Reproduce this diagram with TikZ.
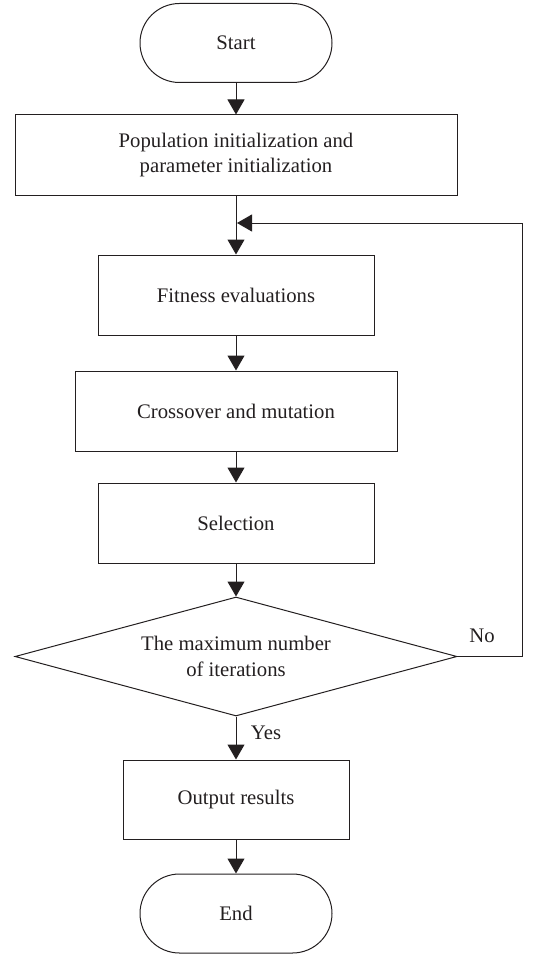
\documentclass[tikz,border=0pt]{standalone}
\usepackage{fontspec}
\setmainfont{Liberation Serif}
\usetikzlibrary{arrows.meta,shapes.geometric}
\definecolor{ink}{HTML}{231F20}
\begin{document}
\begin{tikzpicture}[x=1pt,y=-1pt,
  every node/.style={text=ink,font=\fontsize{20.7}{25.5}\selectfont},
  procbox/.style={draw=ink,line width=1pt,rectangle,minimum height=80pt,align=center,inner sep=0pt},
  termbox/.style={draw=ink,line width=1pt,rectangle,rounded corners=39.5pt,minimum width=192pt,minimum height=79pt,inner sep=0pt},
  decbox/.style={draw=ink,line width=1pt,diamond,shape aspect=3.7,minimum width=442pt,minimum height=119pt,align=center,inner sep=0pt},
  flow/.style={draw=ink,line width=1pt,-{Triangle[length=15pt,width=17pt]}},
  plain/.style={draw=ink,line width=1pt}]
\useasboundingbox (0,0) rectangle (546,955);
\node[termbox] (start) at (236,43) {Start};
\node[procbox,minimum width=442pt] (init) at (236,155) {Population initialization and\\parameter initialization};
\node[procbox,minimum width=276pt] (fit) at (236,295) {Fitness evaluations};
\node[procbox,minimum width=322pt] (cross) at (236,411) {Crossover and mutation};
\node[procbox,minimum width=276pt] (sel) at (236,523) {Selection};
\node[decbox] (dec) at (236,656.5) {The maximum number\\of iterations};
\node[procbox,minimum width=226pt,minimum height=79pt] (out) at (236,799.5) {Output results};
\node[termbox] (end) at (236,913.5) {End};
\coordinate (join) at (237,223);
\coordinate (rt) at (522,656.5);
\node (no) at (482,636) {No};
\node (yes) at (266,733) {Yes};
\path[flow] (start) -- (init);
\path[flow] (init) -- (fit);
\path[flow] (fit) -- (cross);
\path[flow] (cross) -- (sel);
\path[flow] (sel) -- (dec);
\path[flow] (dec) -- (out);
\path[flow] (out) -- (end);
\path[flow] (dec.east) -- (rt) |- (join);
\end{tikzpicture}
\end{document}
